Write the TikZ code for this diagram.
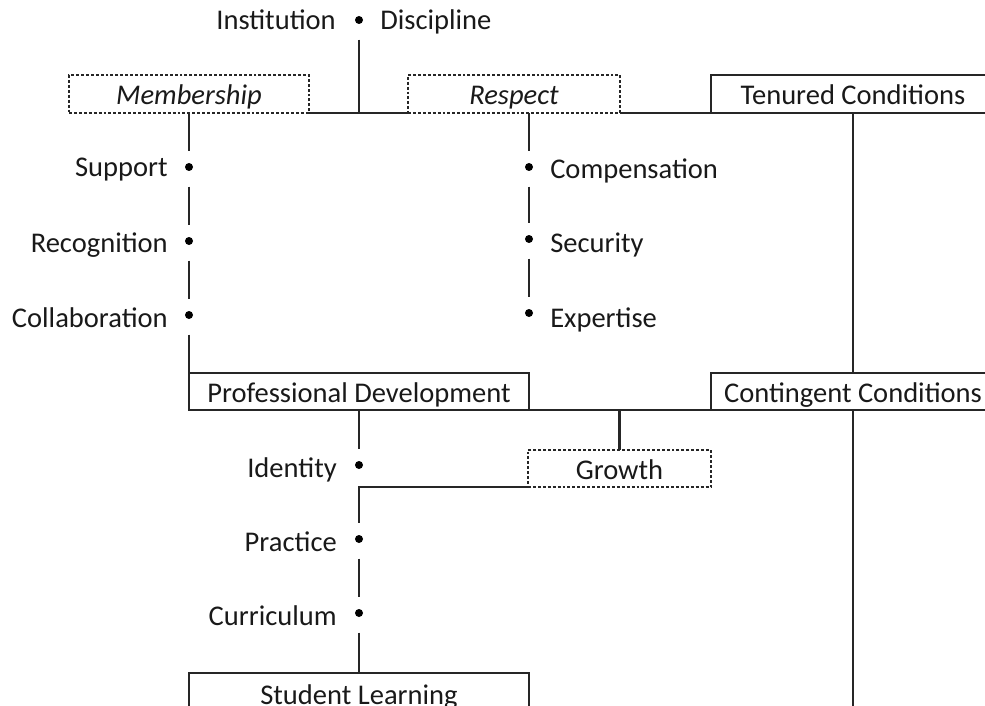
\documentclass[tikz,border=0pt]{standalone}
\usepackage{fontspec}
\setmainfont{Carlito}
\newcommand{\diagfont}{\fontsize{21.4}{25}\selectfont}
\begin{document}
\begin{tikzpicture}[x=0.75pt,y=-0.75pt,
  every node/.style={font=\diagfont, text=black!90},
  link/.style={draw=black!85, line width=1.6pt},
  intodot/.style={shorten >=8.5pt},
  outofdot/.style={shorten <=11.5pt},
  solidbox/.style={draw=black!85, line width=1.6pt, inner sep=0pt, outer sep=0pt,
    text height=16.5pt, text depth=0pt, minimum height=28.5pt},
  dottedbox/.style={solidbox, line width=1.3pt, dash pattern=on 2.2pt off 1.5pt},
  bullet/.style={circle, fill=black, inner sep=0pt, minimum size=6pt},
  lbl/.style={inner sep=0pt}
]
\useasboundingbox (0,0) rectangle (985,706);
\clip (0,0) rectangle (985,706);

% top row of boxes
\node[dottedbox, minimum width=180pt, font=\diagfont\itshape] (mem) at (189,94) {Membership};
\node[dottedbox, minimum width=159pt, font=\diagfont\itshape] (resp) at (514,94) {Respect};
\node[solidbox, minimum width=213pt] (ten) at (853,94) {Tenured Conditions};

% middle row
\node[solidbox, minimum width=255pt, minimum height=27.75pt] (pd) at (359,391.5) {Professional Development};
\node[solidbox, minimum width=213pt, minimum height=27.75pt] (cont) at (853,391.5) {Contingent Conditions};
\node[dottedbox, minimum width=137.25pt, minimum height=27.75pt] (grow) at (619.5,468.5) {Growth};

% bottom box
\node[solidbox, minimum width=255pt, minimum height=30pt] (sl) at (359,693) {Student Learning};

% Institution / Discipline
\node[bullet] (inst) at (359,20) {};
\node[lbl, anchor=base east] (instl) at (336,30) {Institution};
\node[lbl, anchor=base west] (discl) at (380,30) {Discipline};

% Membership bullets
\node[bullet] (m1) at (189,167) {};
\node[bullet] (m2) at (189,241) {};
\node[bullet] (m3) at (189,315) {};
\node[lbl, anchor=base east] (m1l) at (168,177) {Support};
\node[lbl, anchor=base east] (m2l) at (168,252) {Recognition};
\node[lbl, anchor=base east] (m3l) at (168,327) {Collaboration};

% Respect bullets
\node[bullet] (r1) at (529,167) {};
\node[bullet] (r2) at (529,239) {};
\node[bullet] (r3) at (529,313) {};
\node[lbl, anchor=base west] (r1l) at (550,179) {Compensation};
\node[lbl, anchor=base west] (r2l) at (550,252) {Security};
\node[lbl, anchor=base west] (r3l) at (550,327) {Expertise};

% Professional development bullets
\node[bullet] (p1) at (359,465) {};
\node[bullet] (p2) at (359,539) {};
\node[bullet] (p3) at (359,613) {};
\node[lbl, anchor=base east] (p1l) at (337,477) {Identity};
\node[lbl, anchor=base east] (p2l) at (337,551) {Practice};
\node[lbl, anchor=base east] (p3l) at (337,625) {Curriculum};

% junction points
\coordinate (j1) at (359,113);
\coordinate (rdrop) at (529,113);
\coordinate (gj) at (619.5,410);
\coordinate (cbot) at (853,712);

% connectors
\draw[link, outofdot] (inst) -- (j1);
\draw[link] (mem.south east) -- (resp.south west);
\draw[link] (resp.south east) -- (ten.south west);
\draw[link] (ten.south) -- (cont.north);
\draw[link] (cont.south) -- (cbot);

\draw[link, intodot] (mem.south) -- (m1);
\draw[link, outofdot, intodot] (m1) -- (m2);
\draw[link, outofdot, intodot] (m2) -- (m3);
\draw[link, outofdot] (m3) -- (pd.north west);

\draw[link, intodot] (rdrop) -- (r1);
\draw[link, outofdot, intodot] (r1) -- (r2);
\draw[link, outofdot, intodot] (r2) -- (r3);

\draw[link] (pd.south east) -- (cont.south west);
\draw[link] (gj) -- (grow.north);

\draw[link, intodot] (pd.south) -- (p1);
\draw[link, intodot] (grow.south west) -| (p2);
\draw[link, outofdot, intodot] (p2) -- (p3);
\draw[link, outofdot] (p3) -- (sl.north);
\end{tikzpicture}
\end{document}
